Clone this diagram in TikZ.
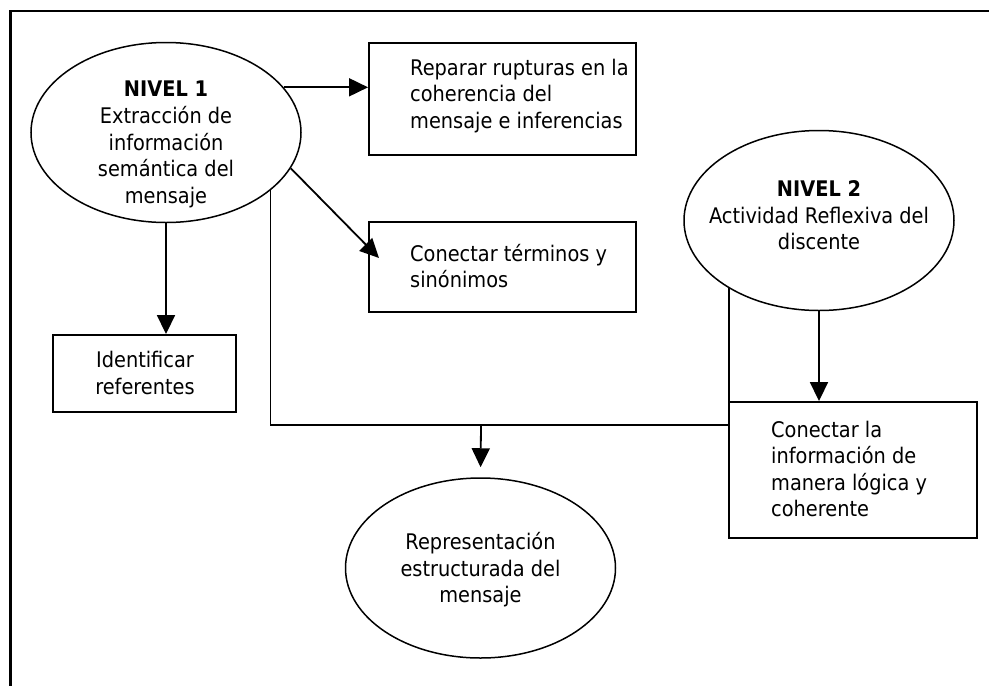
\documentclass[tikz,border=0pt]{standalone}
\usepackage{fontspec}
\setmainfont{DejaVu Sans}[FakeStretch=0.9]
\usetikzlibrary{shapes.geometric,arrows.meta}

\begin{document}
\begin{tikzpicture}[x=1pt,y=-1pt,
  oval/.style={draw, ellipse, line width=1.5pt, minimum width=270pt, minimum height=180pt, inner sep=0pt},
  box/.style={draw, line width=1.9pt, inner sep=0pt},
  lbl/.style={inner sep=0pt, font=\fontsize{21.5}{26.6}\selectfont},
  conn/.style={line width=1.8pt},
  arr/.style={conn, -{Triangle[length=19pt,width=18pt]}}]

\useasboundingbox (0,0) rectangle (989,686);

% outer frame (left and top edges)
\draw[line width=3pt] (10,686) -- (10,10);
\draw[line width=2.2pt] (9,11) -- (989,11);

% ellipses
\node[oval] (n1) at (166,132.5) {};
\node[oval] (n2) at (819,220.5) {};
\node[oval] (rep) at (480.5,568) {};

% boxes
\node[box, minimum width=267pt, minimum height=112pt] (rb) at (502.5,99) {};
\node[box, minimum width=267pt, minimum height=90pt] (ct) at (502.5,267) {};
\node[box, minimum width=183pt, minimum height=77pt] (id) at (144.5,373.5) {};
\node[box, minimum width=248pt, minimum height=136pt] (cl) at (853,470) {};

% texts
\node[lbl, align=center] (n1t) at (166,144.5) {\textbf{NIVEL 1}\\Extracción de\\información\\semántica del\\mensaje};
\node[lbl, align=center] (n2t) at (819,215.5) {\textbf{NIVEL 2}\\Actividad Reflexiva del\\discente};
\node[lbl, align=center] (rept) at (480.5,570) {Representación\\estructurada del\\mensaje};
\node[lbl, align=left, anchor=west] (rbt) at (410,96) {Reparar rupturas en la\\coherencia del\\mensaje e inferencias};
\node[lbl, align=left, anchor=west] (ctt) at (410,266) {Conectar términos y\\sinónimos};
\node[lbl, align=left, anchor=west] (clt) at (771,469) {Conectar la\\información de\\manera lógica y\\coherente};
\node[lbl, align=center] (idt) at (145,373) {Identificar\\referentes};

% connectors
\draw[arr] (n1.21.5) -- (n1.21.5 -| rb.west);
\coordinate (ctTip) at (379,258);
\draw[arr] (n1.-16) -- (ctTip);
\draw[arr] (n1.south) -- (n1.south |- id.north);
\draw[arr] (n2.south) -- (n2.south |- cl.north);
\coordinate (bus) at (481,425);
\draw[conn] (n1.-29.4) |- (bus) -| (n2.217.4);
\draw[arr, shorten >=10pt] (bus) -- (rep.north);
\end{tikzpicture}
\end{document}
